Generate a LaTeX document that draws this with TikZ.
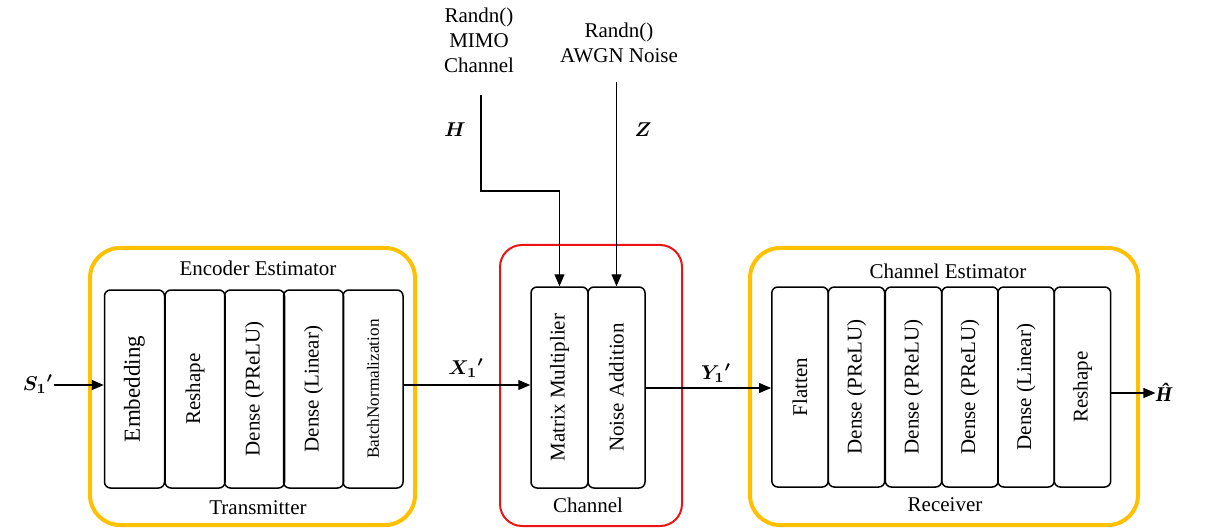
\documentclass[tikz,border=0pt]{standalone}
\usepackage{fontspec}
\setmainfont{Liberation Serif}
\usepackage{bm}
\usetikzlibrary{arrows.meta}
\definecolor{goldc}{RGB}{255,192,0}
\definecolor{redc}{RGB}{235,20,20}
\begin{document}
\begin{tikzpicture}[x=0.5pt,y=-0.5pt,
  lay/.style={draw, line width=0.75pt, rounded corners=3pt, inner sep=0pt, font=\fontsize{10.5}{12}\selectfont},
  enc/.style={lay, minimum width=30pt, minimum height=99pt},
  chn/.style={lay, minimum width=28.5pt, minimum height=100.5pt},
  rcv/.style={lay, minimum width=28.2pt, minimum height=100pt},
  obox/.style={draw=goldc, line width=2pt, rounded corners=15pt},
  rbox/.style={draw=redc, line width=1pt, rounded corners=11pt},
  arr/.style={line width=0.6pt, -{Triangle[length=6pt,width=5pt]}},
  lbl/.style={inner sep=0pt, font=\fontsize{10.5}{12.5}\selectfont},
  mlbl/.style={inner sep=0pt, font=\fontsize{10}{12}\selectfont}]
\useasboundingbox (0,0) rectangle (1209,529);

% containers
\draw[obox] (90,248) rectangle (415,525);
\draw[rbox] (500,245) rectangle (682,526);
\draw[obox] (750,248) rectangle (1138,525);

% transmitter layers
\node[enc, font=\fontsize{11.5}{13}\selectfont] (emb) at (134.5,389) {\rotatebox{90}{Embedding}};
\node[enc] (rs1) at (195,389) {\rotatebox{90}{Reshape}};
\node[enc] (dp1) at (254.5,389) {\rotatebox{90}{Dense (PReLU)}};
\node[enc] (dl1) at (313.5,389) {\rotatebox{90}{Dense (Linear)}};
\node[enc, font=\fontsize{8.6}{10}\selectfont] (bn) at (373,389) {\rotatebox{90}{BatchNormalization}};

% channel layers
\node[chn] (mm) at (559.5,387.5) {\rotatebox{90}{Matrix Multiplier}};
\node[chn] (na) at (616.5,387.5) {\rotatebox{90}{Noise Addition}};

% receiver layers
\node[rcv] (fl) at (800,387) {\rotatebox{90}{Flatten}};
\node[rcv] (dp2) at (856.5,387) {\rotatebox{90}{Dense (PReLU)}};
\node[rcv] (dp3) at (913.5,387) {\rotatebox{90}{Dense (PReLU)}};
\node[rcv] (dp4) at (970,387) {\rotatebox{90}{Dense (PReLU)}};
\node[rcv] (dl2) at (1026,387) {\rotatebox{90}{Dense (Linear)}};
\node[rcv] (rs2) at (1082.5,387) {\rotatebox{90}{Reshape}};

% container labels
\node[lbl] (encl) at (258,268) {Encoder Estimator};
\node[lbl] (txl) at (258,508) {Transmitter};
\node[lbl] (chl) at (588,505) {Channel};
\node[lbl] (cel) at (948,271) {Channel Estimator};
\node[lbl] (rxl) at (945,505) {Receiver};

% sources
\node[lbl, align=center] (mimo) at (479,40) {Randn()\\MIMO\\Channel};
\node[lbl, align=center] (awgn) at (619,43) {Randn()\\AWGN Noise};

% signal labels
\node[mlbl] (s1) at (38,384) {$\bm{{S_1}'}$};
\node[mlbl] (x1) at (466,368) {$\bm{{X_1}'}$};
\node[mlbl] (y1) at (716,373) {$\bm{{Y_1}'}$};
\node[mlbl] (hl) at (455,130) {$\bm{H}$};
\node[mlbl] (zl) at (643,130) {$\bm{Z}$};
\node[mlbl, font=\fontsize{10.5}{12}\selectfont\bfseries\itshape] (hh) at (1164,392) {Ĥ};

\coordinate (rowA) at (0,385);
\coordinate (rowB) at (0,388);
\coordinate (rowC) at (0,393);

% connectors
\draw[arr] (s1.east |- rowA) -- (emb.west |- rowA);
\draw[arr] (bn.east |- rowA) -- (mm.west |- rowA);
\draw[arr] (na.east |- rowB) -- (fl.west |- rowB);
\draw[arr] (rs2.east |- rowC) -- (hh.west |- rowC);

\coordinate (hs) at (481,95);
\coordinate (hk) at (481,191);
\draw[arr] (hs) -- (hk) -| (mm.north);
\path (na.north) ++(0,-204) coordinate (zs);
\draw[arr] (zs) -- (na.north);
\end{tikzpicture}
\end{document}
